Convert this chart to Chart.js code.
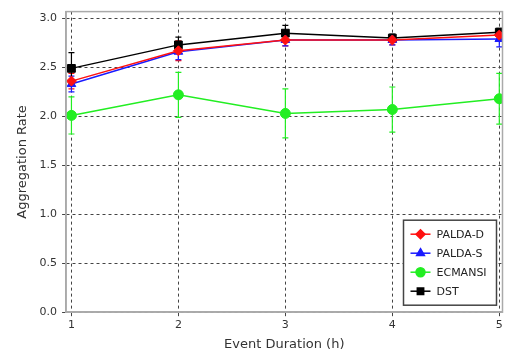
<!DOCTYPE html>
<html>
<head>
<meta charset="utf-8">
<script src="https://cdn.jsdelivr.net/npm/chart.js@4/dist/chart.umd.min.js"></script>
<style>
  html, body { margin: 0; padding: 0; background: #fff; }
  #wrap { width: 509px; height: 356px; }
</style>
</head>
<body>
<div id="wrap"><canvas id="c" width="509" height="356"></canvas></div>
<script>
// 数据
const durations = [1, 2, 3, 4, 5];
const paldaD = [2.36, 2.67, 2.78, 2.78, 2.83];
const paldaDErr = [0.08, 0.10, 0.06, 0.05, 0.05];
const paldaS = [2.33, 2.66, 2.78, 2.78, 2.79];
const paldaSErr = [0.08, 0.08, 0.06, 0.05, 0.08];
const ecmansi = [2.01, 2.22, 2.03, 2.07, 2.18];
const ecmansiErr = [0.19, 0.23, 0.25, 0.23, 0.26];
const dst = [2.49, 2.73, 2.85, 2.80, 2.86];
const dstErr = [0.16, 0.08, 0.08, 0.04, 0.04];
const yTicks = [0.0, 0.5, 1.0, 1.5, 2.0, 2.5, 3.0];

function mkSeries(label, vals, errs, color, style) {
    return {
        label: label,
        data: durations.map((x, i) => ({ x: x, y: vals[i] })),
        errors: errs,
        borderColor: color,
        backgroundColor: color,
        borderWidth: 1.5,
        pointStyle: style,
        pointRadius: style === 'rect' ? 5.5 : 5,
        pointBorderWidth: 1,
        pointBorderColor: color,
        tension: 0
    };
}

// 误差线
const errorBarPlugin = {
    id: 'errorBars',
    beforeDatasetsDraw(chart) {
        const ctx = chart.ctx;
        const ys = chart.scales.y;
        chart.data.datasets.forEach((ds, di) => {
            const meta = chart.getDatasetMeta(di);
            ctx.save();
            ctx.strokeStyle = ds.borderColor;
            ctx.lineWidth = 1.2;
            meta.data.forEach((pt, i) => {
                const v = ds.data[i].y, e = ds.errors[i];
                const top = ys.getPixelForValue(v + e);
                const bot = ys.getPixelForValue(v - e);
                ctx.beginPath();
                ctx.moveTo(pt.x, top); ctx.lineTo(pt.x, bot);
                ctx.moveTo(pt.x - 3, top); ctx.lineTo(pt.x + 3, top);
                ctx.moveTo(pt.x - 3, bot); ctx.lineTo(pt.x + 3, bot);
                ctx.stroke();
            });
            ctx.restore();
        });
    }
};

// 外框 + 图内图例
const boxLegendPlugin = {
    id: 'boxLegend',
    afterDraw(chart) {
        const ctx = chart.ctx;
        const area = chart.chartArea;
        ctx.save();
        ctx.strokeStyle = '#aaa';
        ctx.lineWidth = 1.5;
        ctx.strokeRect(area.left, area.top, area.right - area.left, area.bottom - area.top);

        const w = 93, h = 85;
        const x0 = area.right - w - 6, y0 = area.bottom - h - 7;
        ctx.fillStyle = '#fff';
        ctx.fillRect(x0, y0, w, h);
        ctx.strokeStyle = '#444';
        ctx.lineWidth = 1.5;
        ctx.strokeRect(x0, y0, w, h);
        ctx.font = '11px "DejaVu Sans"';
        ctx.textBaseline = 'middle';
        chart.data.datasets.forEach((ds, i) => {
            const cy = y0 + 14 + i * 19;
            ctx.strokeStyle = ds.borderColor;
            ctx.lineWidth = 1.5;
            ctx.beginPath();
            ctx.moveTo(x0 + 7, cy); ctx.lineTo(x0 + 27, cy);
            ctx.stroke();
            ctx.fillStyle = ds.backgroundColor;
            Chart.helpers.drawPoint(ctx, {
                pointStyle: ds.pointStyle, radius: 4.5, rotation: 0, borderWidth: 1
            }, x0 + 17, cy);
            ctx.fillStyle = '#222';
            ctx.fillText(ds.label, x0 + 33, cy + 1);
        });
        ctx.restore();
    }
};

new Chart(document.getElementById('c'), {
    type: 'line',
    data: {
        datasets: [
            mkSeries('PALDA-D', paldaD, paldaDErr, '#ff1010', 'rectRot'),
            mkSeries('PALDA-S', paldaS, paldaSErr, '#1a1aff', 'triangle'),
            mkSeries('ECMANSI', ecmansi, ecmansiErr, '#22ee22', 'circle'),
            mkSeries('DST', dst, dstErr, '#000000', 'rect')
        ]
    },
    options: {
        responsive: false,
        animation: false,
        layout: { padding: { top: 10, right: 6, bottom: 4, left: 15 } },
        plugins: { legend: { display: false }, tooltip: { enabled: false } },
        scales: {
            x: {
                type: 'linear',
                min: 0.95, max: 5.03,
                afterBuildTicks: s => { s.ticks = durations.map(v => ({ value: v })); },
                grid: { color: '#444', lineWidth: 1, drawTicks: true, tickLength: 4 },
                border: { display: true, color: '#aaa', width: 1.5, dash: [3, 3] },
                ticks: { color: '#333', font: { family: 'DejaVu Sans', size: 11 }, padding: 2, maxRotation: 0 },
                title: { display: true, text: 'Event Duration (h)', color: '#333',
                         font: { family: 'DejaVu Sans', size: 13 }, padding: { top: 3, bottom: 0 } }
            },
            y: {
                min: 0, max: 3.07,
                afterBuildTicks: s => { s.ticks = yTicks.map(v => ({ value: v })); },
                grid: { color: '#444', lineWidth: 1, drawTicks: true, tickLength: 4 },
                border: { display: true, color: '#aaa', width: 1.5, dash: [3, 3] },
                ticks: { color: '#333', font: { family: 'DejaVu Sans', size: 11 }, padding: 5,
                         callback: v => v.toFixed(1) },
                title: { display: true, text: 'Aggregation Rate', color: '#333',
                         font: { family: 'DejaVu Sans', size: 13 }, padding: { top: 0, bottom: 4 } }
            }
        }
    },
    plugins: [errorBarPlugin, boxLegendPlugin]
});
</script>
</body>
</html>
